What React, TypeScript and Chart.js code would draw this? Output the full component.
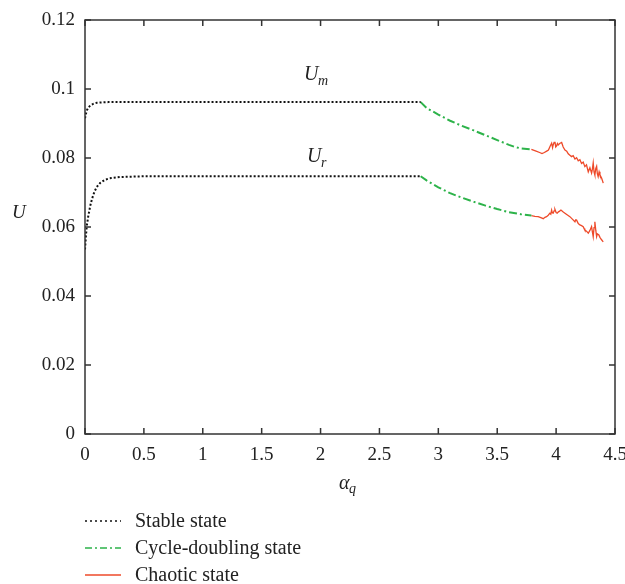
import React, { useEffect, useRef } from "react";
import { Chart, registerables } from "chart.js";

Chart.register(...registerables);

// ---- data ----
const xTicks = [0, 0.5, 1, 1.5, 2, 2.5, 3, 3.5, 4, 4.5];
const yTicks = [0, 0.02, 0.04, 0.06, 0.08, 0.1, 0.12];

const umStableX = [0, 0.008, 0.016, 0.028, 0.045, 0.07, 0.1, 0.14, 0.2, 0.5, 1, 1.5, 2, 2.5, 2.85];
const umStableY = [0.0915, 0.0928, 0.0938, 0.0946, 0.0952, 0.0957, 0.0960, 0.0961, 0.0962, 0.0962, 0.0962, 0.0962, 0.0962, 0.0962, 0.0962];

const urStableX = [0, 0.008, 0.016, 0.028, 0.045, 0.06, 0.08, 0.1, 0.13, 0.17, 0.22, 0.3, 0.5, 1, 2, 2.85];
const urStableY = [0.0535, 0.0575, 0.0605, 0.0632, 0.0662, 0.0682, 0.0702, 0.0716, 0.0728, 0.0737, 0.0742, 0.0745, 0.0747, 0.0747, 0.0747, 0.0747];

const umCycleX = [2.85, 2.9, 3.0, 3.1, 3.2, 3.3, 3.4, 3.5, 3.6, 3.65, 3.7, 3.79];
const umCycleY = [0.0962, 0.0945, 0.0926, 0.0908, 0.0893, 0.0880, 0.0866, 0.0852, 0.0838, 0.0832, 0.0828, 0.0825];

const urCycleX = [2.85, 2.9, 3.0, 3.1, 3.2, 3.3, 3.4, 3.5, 3.6, 3.7, 3.79];
const urCycleY = [0.0747, 0.0735, 0.0715, 0.0698, 0.0685, 0.0673, 0.0662, 0.0652, 0.0643, 0.0637, 0.0633];

const umChaosX = [3.79, 3.83, 3.86, 3.88, 3.9, 3.92, 3.935, 3.95, 3.962, 3.97, 3.975, 3.983, 3.99, 3.997, 4.004, 4.011, 4.018, 4.03, 4.047, 4.06, 4.075, 4.09, 4.103, 4.117, 4.131, 4.145, 4.16, 4.174, 4.188, 4.202, 4.216, 4.23, 4.244, 4.258, 4.273, 4.287, 4.301, 4.308, 4.315, 4.322, 4.329, 4.337, 4.344, 4.35, 4.357, 4.365, 4.372, 4.386, 4.393, 4.4];
const umChaosY = [0.0825, 0.0820, 0.0816, 0.0813, 0.0816, 0.0820, 0.0823, 0.0835, 0.0843, 0.0830, 0.0838, 0.0845, 0.0847, 0.0832, 0.0835, 0.0842, 0.0838, 0.0842, 0.0845, 0.0832, 0.0823, 0.0820, 0.0812, 0.0808, 0.0804, 0.0807, 0.0797, 0.0801, 0.0792, 0.0795, 0.0784, 0.0788, 0.0775, 0.0780, 0.0760, 0.0772, 0.0756, 0.0768, 0.0786, 0.0760, 0.0751, 0.0770, 0.0776, 0.0755, 0.0746, 0.0760, 0.0751, 0.0742, 0.0735, 0.0727];

const urChaosX = [3.79, 3.82, 3.848, 3.87, 3.891, 3.905, 3.919, 3.933, 3.947, 3.955, 3.962, 3.968, 3.975, 3.983, 3.99, 4.0, 4.009, 4.02, 4.03, 4.041, 4.058, 4.075, 4.096, 4.117, 4.14, 4.16, 4.167, 4.174, 4.188, 4.202, 4.216, 4.23, 4.237, 4.244, 4.258, 4.273, 4.287, 4.301, 4.308, 4.315, 4.322, 4.329, 4.337, 4.344, 4.35, 4.363, 4.372, 4.386, 4.4];
const urChaosY = [0.0633, 0.0631, 0.0630, 0.0627, 0.0624, 0.0628, 0.0630, 0.0634, 0.0640, 0.0637, 0.0649, 0.0641, 0.0640, 0.0647, 0.0651, 0.0642, 0.0640, 0.0644, 0.0646, 0.0649, 0.0644, 0.0640, 0.0635, 0.0630, 0.0622, 0.0615, 0.0621, 0.0620, 0.0610, 0.0606, 0.0604, 0.0601, 0.0596, 0.0591, 0.0588, 0.0582, 0.0590, 0.0601, 0.0586, 0.0572, 0.0598, 0.0615, 0.0590, 0.0572, 0.0580, 0.0577, 0.0570, 0.0563, 0.0557];

const legendLabels = ["Stable state", "Cycle-doubling state", "Chaotic state"];

const SERIF = '"Liberation Serif", "DejaVu Serif", serif';
const STABLE_COLOR = "#111111";
const CYCLE_COLOR = "#2db34a";
const CHAOS_COLOR = "#ee4a2a";

const pts = (xs: number[], ys: number[]) => xs.map((x, i) => ({ x, y: ys[i] }));

const framePlugin = {
  id: "frameAndLabels",
  afterDraw(chart: any) {
    const { ctx, chartArea: a, scales } = chart;
    const xs = scales.x;
    const ys = scales.y;
    ctx.save();
    ctx.strokeStyle = "#333";
    ctx.lineWidth = 1.5;
    ctx.strokeRect(a.left, a.top, a.right - a.left, a.bottom - a.top);
    const tl = 6;
    ctx.beginPath();
    xTicks.forEach((v) => {
      const px = xs.getPixelForValue(v);
      ctx.moveTo(px, a.bottom);
      ctx.lineTo(px, a.bottom - tl);
      ctx.moveTo(px, a.top);
      ctx.lineTo(px, a.top + tl);
    });
    yTicks.forEach((v) => {
      const py = ys.getPixelForValue(v);
      ctx.moveTo(a.left, py);
      ctx.lineTo(a.left + tl, py);
      ctx.moveTo(a.right, py);
      ctx.lineTo(a.right - tl, py);
    });
    ctx.stroke();

    ctx.fillStyle = "#222";
    ctx.textBaseline = "alphabetic";
    ctx.textAlign = "left";
    // y-axis title
    ctx.font = `italic 19px ${SERIF}`;
    ctx.fillText("U", 12, 218);
    // curve labels
    ctx.font = `italic 20px ${SERIF}`;
    ctx.fillText("U", 304, 80);
    ctx.fillText("U", 307, 162);
    ctx.font = `italic 14px ${SERIF}`;
    ctx.fillText("m", 318, 85);
    ctx.fillText("r", 321, 167);
    // x-axis title
    ctx.font = `italic 20px ${SERIF}`;
    ctx.fillText("α", 339, 489);
    ctx.font = `italic 14px ${SERIF}`;
    ctx.fillText("q", 349, 493);
    ctx.restore();
  },
};

function LegendSample({ kind }: { kind: number }) {
  const dash = kind === 0 ? "2 3" : kind === 1 ? "7 3 2 3" : undefined;
  const color = kind === 0 ? STABLE_COLOR : kind === 1 ? CYCLE_COLOR : CHAOS_COLOR;
  const width = kind === 0 ? 1.5 : kind === 1 ? 1.5 : 1.5;
  return (
    <svg width={36} height={6} style={{ display: "block", marginRight: 14 }}>
      <line x1={0} y1={3} x2={36} y2={3} stroke={color} strokeWidth={width} strokeDasharray={dash} />
    </svg>
  );
}

export default function App() {
  const canvasRef = useRef<HTMLCanvasElement | null>(null);

  useEffect(() => {
    const canvas = canvasRef.current;
    if (!canvas) return;
    const common = { pointRadius: 0, tension: 0, fill: false };
    const chart = new Chart(canvas, {
      type: "line",
      data: {
        datasets: [
          { ...common, label: "Um stable", data: pts(umStableX, umStableY), borderColor: STABLE_COLOR, borderWidth: 2, borderDash: [2, 2] },
          { ...common, label: "Ur stable", data: pts(urStableX, urStableY), borderColor: STABLE_COLOR, borderWidth: 2, borderDash: [2, 2] },
          { ...common, label: "Um cycle", data: pts(umCycleX, umCycleY), borderColor: CYCLE_COLOR, borderWidth: 2, borderDash: [8, 3, 2, 3] },
          { ...common, label: "Ur cycle", data: pts(urCycleX, urCycleY), borderColor: CYCLE_COLOR, borderWidth: 2, borderDash: [8, 3, 2, 3] },
          { ...common, label: "Um chaos", data: pts(umChaosX, umChaosY), borderColor: CHAOS_COLOR, borderWidth: 1.3 },
          { ...common, label: "Ur chaos", data: pts(urChaosX, urChaosY), borderColor: CHAOS_COLOR, borderWidth: 1.3 },
        ] as any,
      },
      options: {
        responsive: false,
        animation: false,
        devicePixelRatio: 1,
        layout: { padding: { top: 20, right: 10, left: 0, bottom: 0 } },
        plugins: { legend: { display: false }, tooltip: { enabled: false } },
        scales: {
          x: {
            type: "linear",
            min: 0,
            max: 4.5,
            afterFit: (s: any) => {
              s.height = 150;
              s.paddingLeft = 0;
              s.paddingRight = 0;
            },
            afterBuildTicks: (s: any) => {
              s.ticks = xTicks.map((v) => ({ value: v }));
            },
            grid: { display: false, drawTicks: false },
            border: { display: false },
            ticks: {
              autoSkip: false,
              maxRotation: 0,
              padding: 10,
              color: "#222",
              font: { family: SERIF, size: 19 },
              callback: (v: any) => String(+Number(v).toFixed(2)),
            },
          },
          y: {
            type: "linear",
            min: 0,
            max: 0.12,
            afterFit: (s: any) => {
              s.width = 85;
              s.paddingTop = 0;
              s.paddingBottom = 0;
            },
            afterBuildTicks: (s: any) => {
              s.ticks = yTicks.map((v) => ({ value: v }));
            },
            grid: { display: false, drawTicks: false },
            border: { display: false },
            ticks: {
              autoSkip: false,
              padding: 10,
              color: "#222",
              font: { family: SERIF, size: 19 },
              callback: (v: any) => String(+Number(v).toFixed(2)),
            },
          },
        },
      } as any,
      plugins: [framePlugin],
    });
    return () => chart.destroy();
  }, []);

  return (
    <div style={{ position: "absolute", left: 0, top: 0, width: 625, height: 584, background: "#fff", overflow: "hidden" }}>
      <canvas ref={canvasRef} width={625} height={584} style={{ position: "absolute", left: 0, top: 0, width: 625, height: 584 }} />
      <div style={{ position: "absolute", left: 85, top: 507, fontFamily: SERIF, fontSize: 20, color: "#222" }}>
        {legendLabels.map((lab, i) => (
          <div key={lab} style={{ display: "flex", alignItems: "center", height: 27, whiteSpace: "nowrap" }}>
            <LegendSample kind={i} />
            <span style={{ lineHeight: "27px" }}>{lab}</span>
          </div>
        ))}
      </div>
    </div>
  );
}
